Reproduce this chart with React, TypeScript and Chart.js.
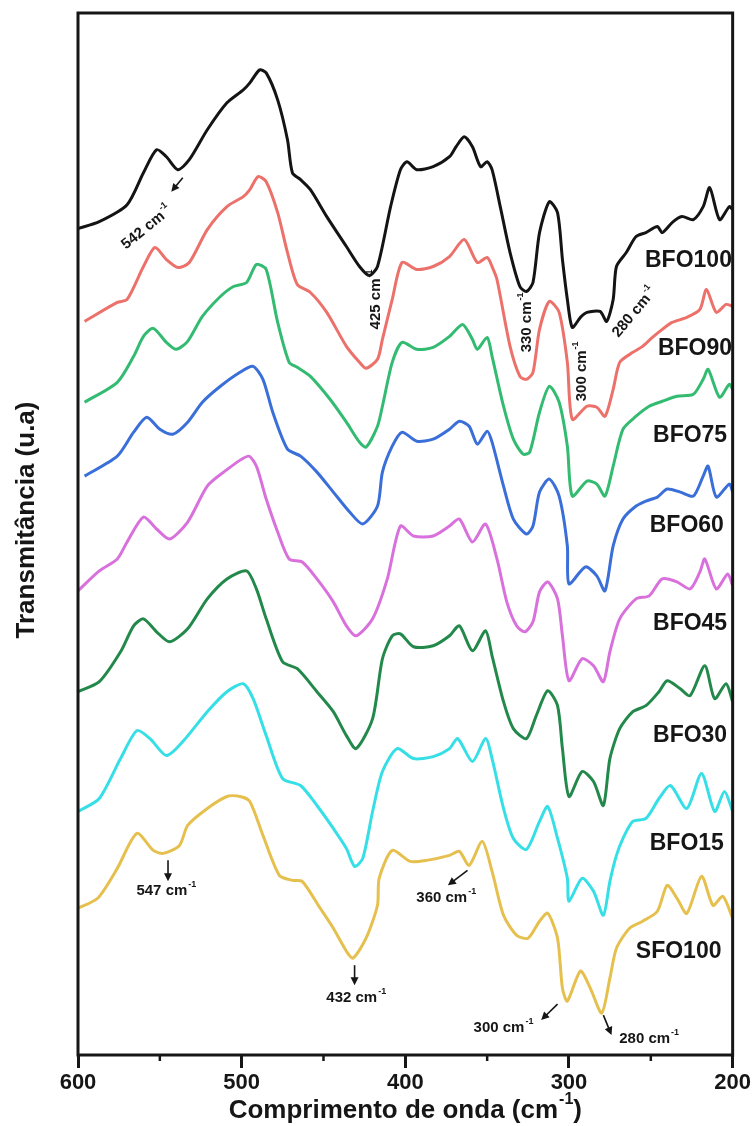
import { useEffect, useRef } from 'react';
import { Chart, registerables } from 'chart.js';
Chart.register(...registerables);

// ---- data: [wavenumber (cm-1), transmittance (a.u., stacked)] ----
const bfo100 = [[600,828],[587,835],[570,852],[560,884],[552,907],[546,900],[539,887],[532,897],[521,927],[509,954],[499,967],[495,974],[489,987],[485,984],[478,957],[472,917],[469,884],[464,877],[458,867],[448,840],[436,810],[428,790],[422,781],[417,790],[409,850],[403,887],[399,895],[393,887],[383,890],[373,900],[369,910],[364,920],[359,910],[354,890],[350,895],[347,887],[342,850],[336,804],[330,770],[326,765],[322,774],[318,824],[312,855],[307,844],[304,797],[301,757],[298,729],[293,739],[289,744],[281,745],[277,735],[273,757],[271,790],[265,804],[259,820],[253,824],[246,830],[243,824],[237,834],[231,840],[224,837],[218,850],[214,869],[208,837],[202,850],[200,847]];
const bfo90 = [[596,735],[576,754],[570,757],[560,790],[553,809],[546,797],[539,789],[532,794],[521,827],[509,850],[499,860],[495,867],[490,880],[485,875],[478,844],[472,804],[466,772],[458,764],[448,744],[436,710],[428,694],[424,688],[417,697],[414,717],[408,757],[402,794],[393,787],[383,790],[373,800],[364,817],[356,794],[350,799],[347,790],[344,777],[336,710],[330,680],[326,677],[322,684],[318,727],[312,755],[306,744],[301,694],[298,637],[289,650],[283,649],[278,640],[273,667],[269,694],[261,704],[255,710],[249,719],[243,727],[237,734],[228,739],[220,747],[216,767],[210,744],[204,752],[200,750]];
const bfo75 = [[596,654],[576,674],[566,700],[560,720],[554,728],[546,714],[540,707],[533,715],[524,740],[513,760],[505,770],[497,774],[491,792],[485,787],[478,734],[471,694],[466,689],[458,680],[446,657],[436,634],[428,614],[424,609],[417,630],[414,650],[408,694],[402,714],[393,707],[383,709],[373,720],[365,732],[359,717],[356,707],[350,719],[347,700],[340,650],[334,617],[328,602],[324,604],[318,644],[312,670],[306,654],[301,610],[298,560],[289,575],[283,572],[278,560],[273,590],[267,627],[259,640],[251,650],[243,655],[234,660],[224,662],[218,677],[215,687],[208,659],[202,672],[200,667]];
const bfo60 = [[596,580],[576,600],[566,624],[558,639],[550,627],[542,622],[533,634],[524,654],[513,670],[501,684],[493,690],[487,677],[481,644],[472,607],[464,600],[454,584],[444,564],[434,544],[426,532],[417,550],[414,584],[408,610],[402,624],[393,615],[383,617],[373,627],[367,635],[361,630],[356,612],[350,625],[347,614],[340,570],[334,537],[326,522],[322,530],[318,564],[312,577],[306,560],[301,510],[300,472],[290,489],[283,480],[278,465],[273,510],[267,537],[259,550],[253,555],[246,559],[240,567],[232,564],[224,560],[218,580],[215,590],[210,559],[202,572],[200,564]];
const bfo45 = [[600,465],[587,485],[576,497],[570,514],[560,539],[552,527],[544,517],[533,534],[521,570],[511,584],[496,600],[491,590],[485,557],[478,524],[471,497],[463,494],[454,477],[444,454],[436,430],[430,420],[420,437],[411,477],[403,530],[395,520],[383,520],[373,530],[367,537],[359,514],[351,532],[344,497],[338,454],[332,430],[327,424],[322,434],[318,464],[313,474],[307,457],[304,420],[300,375],[292,397],[285,390],[279,374],[275,404],[269,437],[259,457],[251,460],[243,477],[234,474],[226,467],[220,484],[217,497],[210,467],[203,482],[200,470]];
const bfo30 = [[600,364],[587,374],[574,404],[566,430],[560,437],[552,424],[544,414],[533,427],[521,457],[509,477],[497,485],[491,467],[485,437],[475,394],[466,387],[454,364],[444,344],[436,320],[430,307],[420,337],[414,397],[408,420],[403,422],[395,409],[383,410],[373,420],[367,430],[359,405],[351,425],[347,400],[340,354],[334,327],[326,317],[320,340],[313,365],[307,350],[304,307],[300,259],[292,284],[285,274],[279,250],[275,297],[269,327],[261,344],[253,350],[245,364],[240,375],[232,367],[226,360],[217,390],[211,357],[204,372],[200,354]];
const bfo15 = [[600,244],[587,257],[574,297],[564,325],[556,317],[546,300],[536,314],[521,344],[509,364],[499,372],[493,357],[485,320],[475,277],[464,270],[454,250],[444,227],[436,207],[431,189],[426,197],[420,244],[414,284],[405,307],[395,297],[383,299],[373,307],[368,317],[359,294],[351,317],[347,297],[340,247],[334,217],[326,206],[318,234],[313,249],[307,217],[301,177],[300,154],[292,177],[285,164],[279,140],[275,174],[271,200],[267,217],[261,234],[253,237],[245,257],[238,270],[228,247],[219,282],[211,244],[205,264],[200,244]];
const sfo100 = [[600,147],[588,157],[576,187],[564,222],[554,205],[548,202],[538,210],[533,230],[521,247],[509,259],[501,259],[495,254],[487,220],[477,180],[469,175],[463,174],[452,147],[444,127],[436,104],[432,97],[424,117],[417,150],[416,177],[408,205],[397,194],[387,195],[373,200],[367,204],[361,190],[353,214],[347,184],[340,140],[332,120],[325,117],[318,134],[313,142],[307,117],[304,67],[301,54],[293,84],[287,67],[280,42],[275,77],[271,107],[263,127],[255,134],[246,144],[240,170],[234,157],[228,142],[219,179],[212,150],[206,159],[200,137]];

const seriesNames = ['BFO100', 'BFO90', 'BFO75', 'BFO60', 'BFO45', 'BFO30', 'BFO15', 'SFO100'];
const seriesData = [bfo100, bfo90, bfo75, bfo60, bfo45, bfo30, bfo15, sfo100];
const xTicks = [600, 500, 400, 300, 200];
const minorTicks = [550, 450, 350, 250];
const xTitle = 'Comprimento de onda (cm';
const yTitle = 'Transmitância (u.a)';

// ---- styles / placement ----
const seriesColors = ['#141414', '#ec716b', '#33bb72', '#3a6ed8', '#d871dc', '#22894b', '#36dfe6', '#e6c04e'];
const seriesLabelAt = [[227, 796], [223, 708], [226, 621], [228, 530], [226, 432], [226, 320], [228, 212], [233, 104]];
const annotations = [
  { text: '542 cm', at: [558, 829], angle: -39, arrow: [[536, 879], [543, 865]] },
  { text: '425 cm', at: [418, 757], angle: -90, arrow: null },
  { text: '330 cm', at: [326, 734], angle: -90, arrow: null },
  { text: '300 cm', at: [292, 685], angle: -90, arrow: null },
  { text: '280 cm', at: [260, 744], angle: -50, arrow: null },
  { text: '547 cm', at: [546, 164], angle: 0, arrow: [[545, 195], [545, 174]] },
  { text: '432 cm', at: [430, 57], angle: 0, arrow: [[431, 90], [431, 70]] },
  { text: '360 cm', at: [375, 157], angle: 0, arrow: [[362, 185], [374, 170]] },
  { text: '300 cm', at: [340, 27], angle: 0, arrow: [[307, 51], [317, 35]] },
  { text: '280 cm', at: [251, 16], angle: 0, arrow: [[279, 40], [274, 20]] },
];

const FONT = '"Liberation Sans", Arial, Helvetica, sans-serif';
const INK = '#161616';

function drawRich(ctx: CanvasRenderingContext2D, x: number, y: number, angle: number, base: string, sup: string, tail: string, size: number) {
  ctx.save();
  ctx.translate(x, y);
  ctx.rotate(angle);
  const f = `bold ${size}px ${FONT}`;
  const fs = `bold ${Math.round(size * 0.62)}px ${FONT}`;
  ctx.font = f;
  const w1 = ctx.measureText(base).width;
  const w3 = tail ? ctx.measureText(tail).width : 0;
  ctx.font = fs;
  const w2 = ctx.measureText(sup).width;
  const total = w1 + w2 + w3 + 1;
  let cx = -total / 2;
  ctx.textBaseline = 'middle';
  ctx.textAlign = 'left';
  ctx.fillStyle = INK;
  ctx.font = f;
  ctx.fillText(base, cx, 0);
  cx += w1 + 1;
  ctx.font = fs;
  ctx.fillText(sup, cx, -size * 0.42);
  cx += w2;
  if (tail) {
    ctx.font = f;
    ctx.fillText(tail, cx, 0);
  }
  ctx.restore();
}

function drawArrow(ctx: CanvasRenderingContext2D, x1: number, y1: number, x2: number, y2: number) {
  const ang = Math.atan2(y2 - y1, x2 - x1);
  const hl = 8, hw = 4;
  ctx.save();
  ctx.strokeStyle = INK;
  ctx.fillStyle = INK;
  ctx.lineWidth = 1.6;
  ctx.beginPath();
  ctx.moveTo(x1, y1);
  ctx.lineTo(x2 - Math.cos(ang) * hl * 0.6, y2 - Math.sin(ang) * hl * 0.6);
  ctx.stroke();
  ctx.beginPath();
  ctx.moveTo(x2, y2);
  ctx.lineTo(x2 - Math.cos(ang) * hl + Math.sin(ang) * hw, y2 - Math.sin(ang) * hl - Math.cos(ang) * hw);
  ctx.lineTo(x2 - Math.cos(ang) * hl - Math.sin(ang) * hw, y2 - Math.sin(ang) * hl + Math.cos(ang) * hw);
  ctx.closePath();
  ctx.fill();
  ctx.restore();
}

const decorPlugin = {
  id: 'decor',
  afterDatasetsDraw(chart: any) {
    const { ctx, chartArea: a, scales } = chart;
    const xs = scales.x, ys = scales.y;
    const px = (v: number) => xs.getPixelForValue(v);
    const py = (v: number) => ys.getPixelForValue(v);
    ctx.save();
    // frame
    ctx.strokeStyle = INK;
    ctx.lineWidth = 3;
    ctx.strokeRect(a.left, a.top, a.right - a.left, a.bottom - a.top);
    // minor ticks
    ctx.lineWidth = 2.5;
    minorTicks.forEach((t) => {
      const x = px(t);
      ctx.beginPath();
      ctx.moveTo(x, a.bottom);
      ctx.lineTo(x, a.bottom + 6);
      ctx.stroke();
    });
    // series labels
    ctx.fillStyle = INK;
    ctx.font = `bold 23px ${FONT}`;
    ctx.textAlign = 'center';
    ctx.textBaseline = 'middle';
    seriesNames.forEach((n, i) => {
      ctx.fillText(n, px(seriesLabelAt[i][0]), py(seriesLabelAt[i][1]));
    });
    // annotations
    annotations.forEach((an) => {
      drawRich(ctx, px(an.at[0]), py(an.at[1]), (an.angle * Math.PI) / 180, an.text, '-1', '', 15);
      if (an.arrow) {
        drawArrow(ctx, px(an.arrow[0][0]), py(an.arrow[0][1]), px(an.arrow[1][0]), py(an.arrow[1][1]));
      }
    });
    // axis titles
    drawRich(ctx, (a.left + a.right) / 2, 1111, 0, xTitle, '-1', ')', 26);
    ctx.save();
    ctx.translate(27, 520);
    ctx.rotate(-Math.PI / 2);
    ctx.font = `bold 26px ${FONT}`;
    ctx.textAlign = 'center';
    ctx.textBaseline = 'middle';
    ctx.fillStyle = INK;
    ctx.fillText(yTitle, 0, 0);
    ctx.restore();
    ctx.restore();
  },
};

export default function App() {
  const canvasRef = useRef<HTMLCanvasElement | null>(null);
  useEffect(() => {
    const canvas = canvasRef.current;
    if (!canvas) return;
    const chart = new Chart(canvas, {
      type: 'line',
      data: {
        datasets: seriesData.map((d, i) => ({
          label: seriesNames[i],
          data: d.map(([x, y]) => ({ x, y })),
          borderColor: seriesColors[i],
          backgroundColor: seriesColors[i],
          borderWidth: 3,
          pointRadius: 0,
          tension: 0.25,
          fill: false,
        })),
      },
      options: {
        animation: false,
        responsive: false,
        maintainAspectRatio: false,
        layout: { padding: { left: 78, right: 20, top: 13, bottom: 27.6 } },
        plugins: { legend: { display: false }, tooltip: { enabled: false }, title: { display: false } },
        scales: {
          x: {
            type: 'linear',
            reverse: true,
            min: 200,
            max: 600,
            afterBuildTicks: (s: any) => { s.ticks = xTicks.map((v) => ({ value: v })); },
            ticks: { color: INK, font: { family: FONT, size: 22, weight: 'bold' }, padding: 2, maxRotation: 0, autoSkip: false },
            grid: { display: true, drawOnChartArea: false, drawTicks: true, tickLength: 13, tickWidth: 3, tickColor: INK },
            border: { display: false },
          },
          y: {
            type: 'linear',
            display: false,
            min: 0,
            max: 1044,
          },
        },
      },
      plugins: [decorPlugin],
    } as any);
    return () => chart.destroy();
  }, []);
  return (
    <div style={{ position: 'absolute', left: 0, top: 0, width: 753, height: 1126, background: '#fff' }}>
      <canvas ref={canvasRef} width={753} height={1126} style={{ display: 'block', width: 753, height: 1126 }} />
    </div>
  );
}
